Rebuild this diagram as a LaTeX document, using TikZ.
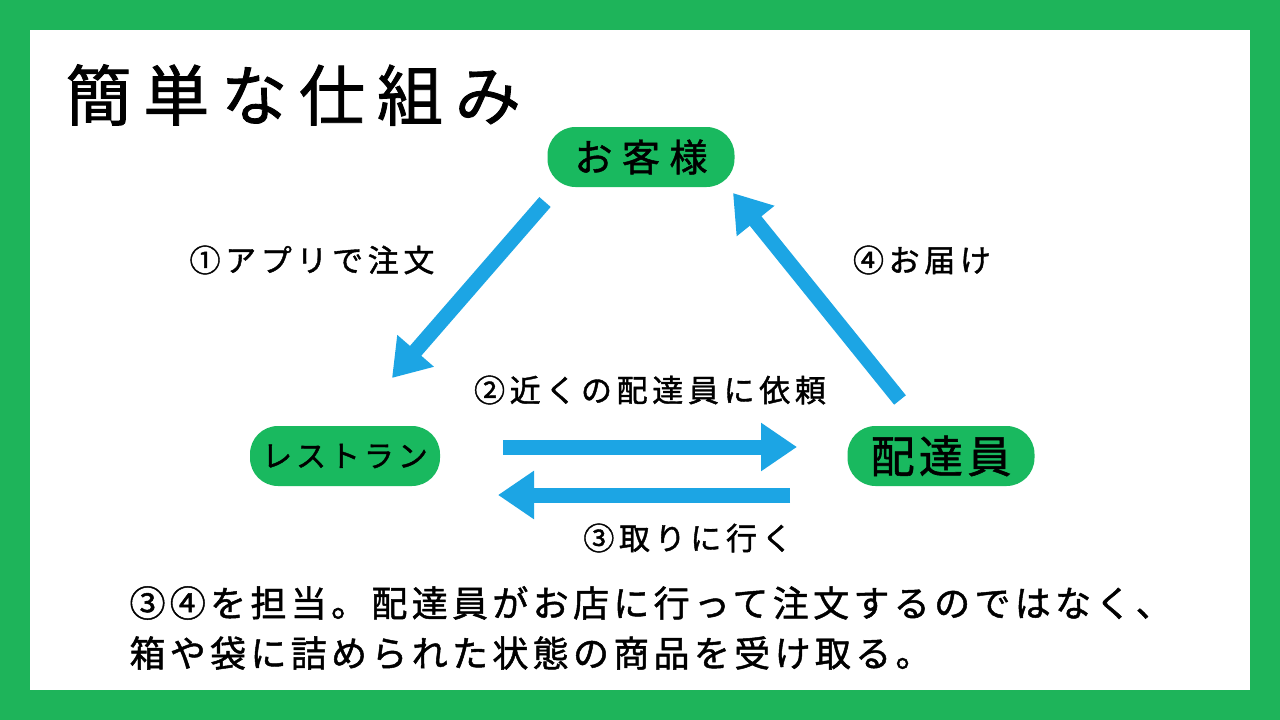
\documentclass[tikz,border=0pt]{standalone}
\usepackage{fontspec}
\setmainfont{Noto Sans CJK JP}
\usetikzlibrary{arrows.meta}
\definecolor{brdgreen}{RGB}{30,180,90}
\definecolor{pillgreen}{RGB}{25,185,95}
\definecolor{arrblue}{RGB}{28,165,228}
\newcommand{\fsz}[2]{\fontsize{#1}{#1}\selectfont\addfontfeature{LetterSpace=#2,FakeBold=1.3}}
\begin{document}
\begin{tikzpicture}[x=1pt,y=-1pt,
  pill/.style={fill=pillgreen,rounded corners=28pt,minimum height=60pt,inner xsep=8pt},
  bigarrow/.style={arrblue,line width=15pt,-{Triangle[length=36pt,width=46pt]}},
  lbl/.style={font=\fsz{31}{15}}]
\fill[brdgreen] (0,0) rectangle (1280,720);
\fill[white] (30,30) rectangle (1250,690);
\useasboundingbox (0,0) rectangle (1280,720);
\node[anchor=west,font=\fsz{66}{18}] (title) at (62,95) {簡単な仕組み};
\node[pill,minimum width=187pt,font=\fsz{38}{25}] (cust) at (641,157) {お客様};
\node[pill,minimum width=190pt,font=\fsz{30}{13}] (rest) at (345,456) {レストラン};
\node[pill,minimum width=187pt,font=\fsz{44}{10}] (deliv) at (941,456) {配達員};
\coordinate (a1s) at (545,202); \coordinate (a1e) at (392,378);
\coordinate (a4s) at (900,400); \coordinate (a4e) at (733,193);
\coordinate (a2s) at (503,447); \coordinate (a2e) at (797,447);
\coordinate (a3s) at (790,495); \coordinate (a3e) at (498,495);
\draw[bigarrow] (a1s) -- (a1e);
\draw[bigarrow] (a4s) -- (a4e);
\draw[bigarrow] (a2s) -- (a2e);
\draw[bigarrow] (a3s) -- (a3e);
\node[lbl] (l1) at (312,260) {①アプリで注文};
\node[lbl] (l4) at (922,260) {④お届け};
\node[lbl] (l2) at (650,390) {②近くの配達員に依頼};
\node[lbl] (l3) at (688,538) {③取りに行く};
\node[anchor=west,font=\fsz{36}{12}] (b1) at (126,603) {③④を担当。配達員がお店に行って注文するのではなく、};
\node[anchor=west,font=\fsz{36}{12}] (b2) at (126,653) {箱や袋に詰められた状態の商品を受け取る。};
\end{tikzpicture}
\end{document}
